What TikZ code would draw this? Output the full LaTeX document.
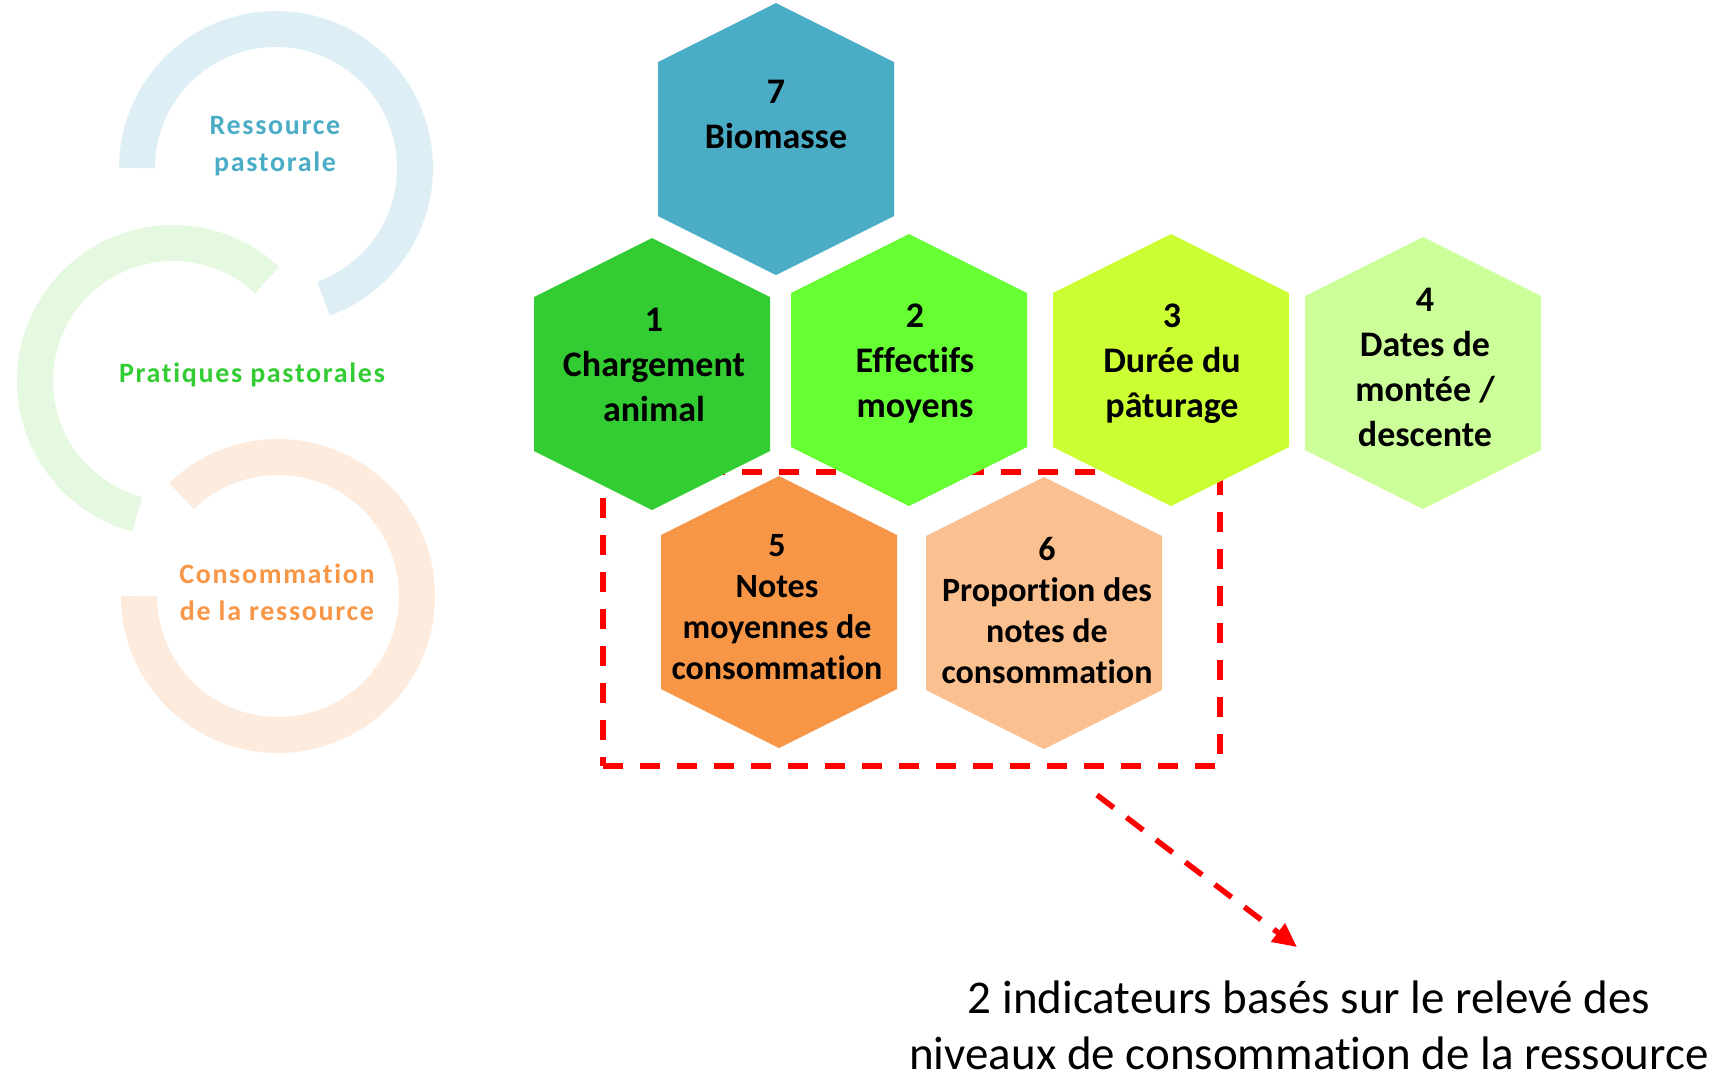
\documentclass[tikz,border=0pt]{standalone}
\usepackage{fontspec}
\setmainfont[Ligatures=NoCommon]{Carlito}
\usetikzlibrary{arrows.meta}
\definecolor{hseven}{HTML}{4BACC6}
\definecolor{hone}{HTML}{33CC33}
\definecolor{htwo}{HTML}{66FF33}
\definecolor{hthree}{HTML}{CCFF33}
\definecolor{hfour}{HTML}{CCFF99}
\definecolor{hfive}{HTML}{F79646}
\definecolor{hsix}{HTML}{FAC090}
\definecolor{ringblue}{HTML}{DDEFF5}
\definecolor{ringgreen}{HTML}{E5F8E0}
\definecolor{ringorange}{HTML}{FDEBDD}
\definecolor{labblue}{HTML}{4BACC6}
\definecolor{labgreen}{HTML}{33CC33}
\definecolor{laborange}{HTML}{F79646}
\definecolor{dashred}{HTML}{FF0000}
\newcommand\hexbg[2]{\fill[#2,shift={#1}] (0,-136) -- (118,-77) -- (118,77) -- (0,136) -- (-118,77) -- (-118,-77) -- cycle;}
\begin{document}
\begin{tikzpicture}[x=1pt,y=-1pt,
  ring/.style={line width=36pt},
  hexlabel/.style={font=\bfseries\fontsize{36}{45}\selectfont, align=center, text=black, inner sep=0pt},
  hexlabelsmall/.style={font=\bfseries\fontsize{34}{41}\selectfont, align=center, text=black, inner sep=0pt},
  sidelabel/.style={font=\bfseries\fontsize{28}{37}\selectfont\addfontfeature{LetterSpace=6}, align=center, inner sep=0pt},
  redbox/.style={draw=dashred, line width=5.5pt, dash pattern=on 20pt off 17pt},
  redarrow/.style={draw=dashred, line width=5.5pt, dash pattern=on 21pt off 16pt, -{Triangle[length=24pt,width=22pt]}},
  note/.style={font=\fontsize{47}{56}\selectfont, align=center, text=black, inner sep=0pt}]
\useasboundingbox (0,0) rectangle (1730,1080);
% left rings
\draw[ring, draw=ringblue] ([shift={(-70:139pt)}]276,168) arc[start angle=-70, end angle=180, radius=139pt];
\draw[ring, draw=ringgreen] ([shift={(47:138pt)}]173,381) arc[start angle=47, end angle=255, radius=138pt];
\draw[ring, draw=ringorange] ([shift={(180:139pt)}]278,596) arc[start angle=180, end angle=494, radius=139pt];
\node[sidelabel, text=labblue] (lres) at (275,146) {Ressource\\pastorale};
\node[sidelabel, text=labgreen] (lpra) at (252,375) {Pratiques pastorales};
\node[sidelabel, text=laborange] (lcon) at (277,592) {Consommation\\de la ressource};
% dashed box
\node[redbox, minimum width=617pt, minimum height=294pt, inner sep=0pt] (box) at (911.5,619) {};
% hexagons
\hexbg{(776,139)}{hseven}
\hexbg{(652,374)}{hone}
\hexbg{(909,370)}{htwo}
\hexbg{(1171,370)}{hthree}
\hexbg{(1423,373)}{hfour}
\hexbg{(779,612)}{hfive}
\hexbg{(1044,613)}{hsix}
\node[hexlabel] (t7) at (776,114) {7\\Biomasse};
\node[hexlabel] (t1) at (654,365) {1\\Chargement\\animal};
\node[hexlabel] (t2) at (915,364) {2\\Effectifs\\moyens};
\node[hexlabel] (t3) at (1172,364) {3\\Durée du\\pâturage};
\node[hexlabel] (t4) at (1425,367) {4\\Dates de\\montée /\\descente};
\node[hexlabelsmall] (t5) at (777,607) {5\\Notes\\moyennes de\\consommation};
\node[hexlabelsmall] (t6) at (1047,611) {6\\Proportion des\\notes de\\consommation};
% arrow and note
\coordinate (astart) at (1097,795);
\coordinate (aend) at (1297,947);
\draw[redarrow] (astart) -- (aend);
\node[note] (ntxt) at (1309,1025) {2 indicateurs basés sur le relevé des\\niveaux de consommation de la ressource};
\end{tikzpicture}
\end{document}
